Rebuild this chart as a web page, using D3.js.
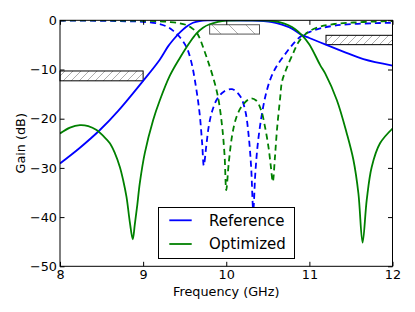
<!DOCTYPE html>
<html>
<head>
<meta charset="utf-8">
<script src="https://cdn.jsdelivr.net/npm/d3@7"></script>
<style>
  body { margin: 0; background: #fff; }
  svg { display: block; font-family: "DejaVu Sans", sans-serif; }
</style>
</head>
<body>
<div id="chart"></div>
<script>
// Values: [frequency GHz, gain dB]
var refS21 = [
  [8.0, -29.1], [8.24, -25.9], [8.48, -22.3], [8.7, -18.4], [9.0, -12.3],
  [9.2, -8.0], [9.3, -5.3], [9.36, -4.0], [9.44, -2.5], [9.52, -1.3],
  [9.6, -0.5], [9.68, -0.15], [9.8, -0.02], [10.0, 0], [10.3, -0.05],
  [10.45, -0.15], [10.55, -0.35], [10.67, -0.9], [10.79, -1.7], [10.91, -3.0],
  [11.0, -3.6], [11.19, -4.9], [11.4, -6.3], [11.65, -7.9], [12.0, -9.2]
];
var refS11 = [
  [8.0, -0.05], [8.5, -0.1], [8.8, -0.2], [9.0, -0.3], [9.2, -0.75],
  [9.3, -1.4], [9.36, -2.1], [9.44, -3.4], [9.52, -5.4], [9.58, -8.5],
  [9.64, -14], [9.68, -19], [9.71, -25], [9.73, -29.5], [9.76, -25.5],
  [9.79, -21.5], [9.83, -18.5], [9.89, -16.0], [9.97, -14.5], [10.07, -14.0],
  [10.17, -15.5], [10.23, -18.5], [10.27, -23.5], [10.3, -30], [10.325, -38.5],
  [10.35, -31], [10.38, -25], [10.42, -20], [10.47, -15.5], [10.53, -12],
  [10.6, -9.5], [10.69, -7.3], [10.8, -4.9], [10.91, -3.1], [11.0, -2.4],
  [11.13, -1.65], [11.3, -1.1], [11.53, -0.75], [11.8, -0.58], [12.0, -0.5]
];
var optS21 = [
  [8.0, -23.0], [8.12, -21.8], [8.24, -21.3], [8.34, -21.5], [8.44, -22.3],
  [8.52, -23.5], [8.6, -25.0], [8.66, -27], [8.72, -29.8], [8.76, -32.5],
  [8.8, -35.9], [8.84, -41], [8.875, -44.5], [8.9, -41.5], [8.93, -37.5],
  [8.96, -33.1], [9.02, -27.0], [9.12, -20.3], [9.2, -16.3], [9.32, -11.3],
  [9.44, -7.7], [9.56, -4.5], [9.64, -2.7], [9.72, -1.5], [9.8, -0.8],
  [9.9, -0.3], [10.0, -0.05], [10.3, 0], [10.5, -0.05], [10.65, -0.4],
  [10.75, -1.0], [10.83, -1.8], [10.91, -3.0], [11.0, -4.9], [11.13, -9.1],
  [11.19, -10.8], [11.33, -16.2], [11.45, -23.0], [11.53, -28.4], [11.59, -35.2],
  [11.64, -45.2], [11.69, -36.5], [11.75, -29.8], [11.85, -25.0], [12.0, -22.0]
];
var optS11 = [
  [8.0, -0.02], [8.8, -0.05], [9.0, -0.1], [9.2, -0.2], [9.32, -0.35],
  [9.44, -0.6], [9.52, -0.95], [9.58, -1.5], [9.64, -2.4], [9.68, -3.6],
  [9.72, -5.4], [9.78, -8.3], [9.84, -11.5], [9.9, -15.5], [9.95, -21.5],
  [9.98, -27.5], [10.0, -34.5], [10.03, -29], [10.07, -23.5], [10.12, -19.8],
  [10.19, -17.4], [10.29, -15.9], [10.36, -16.3], [10.42, -18.3], [10.47, -22],
  [10.51, -26], [10.535, -29.5], [10.56, -32.8], [10.585, -28], [10.61, -22.3],
  [10.65, -15.5], [10.67, -12.5], [10.72, -10], [10.81, -6.5], [10.87, -4.4],
  [10.93, -3.2], [11.0, -2.2], [11.13, -1.3], [11.3, -0.75], [11.53, -0.45],
  [11.8, -0.25], [12.0, -0.15]
];

// Hatched spec masks: [f start, f end, top dB, bottom dB]
var masks = [
  [8.0, 9.0, -10.3, -12.3],
  [9.8, 10.4, -0.9, -2.8],
  [11.2, 12.0, -3.05, -4.95]
];

var xTicks = [8, 9, 10, 11, 12];
var yTicks = [0, -10, -20, -30, -40, -50];
var legendNames = ["Reference", "Optimized"];

// SVG area
var svgWidth = 415;
var svgHeight = 312;
var plot = { left: 60, right: 392.5, top: 20.3, bottom: 266.3 };

var svg = d3.select("#chart")
  .append("svg")
  .attr("width", svgWidth)
  .attr("height", svgHeight);

var x = d3.scaleLinear().domain([8, 12]).range([plot.left, plot.right]);
var y = d3.scaleLinear().domain([-50, 0]).range([plot.bottom, plot.top]);

// hatch patterns
var defs = svg.append("defs");
defs.append("pattern")
  .attr("id", "hatchFwd")
  .attr("patternUnits", "userSpaceOnUse")
  .attr("width", 8).attr("height", 8)
  .append("path")
  .attr("d", "M-2,2 L2,-2 M0,8 L8,0 M6,10 L10,6")
  .attr("stroke", "#8a8a8a")
  .attr("stroke-width", 0.7);
defs.append("pattern")
  .attr("id", "hatchBack")
  .attr("patternUnits", "userSpaceOnUse")
  .attr("width", 17).attr("height", 17)
  .append("path")
  .attr("d", "M-2,-2 L19,19")
  .attr("stroke", "#8a8a8a")
  .attr("stroke-width", 0.7);

defs.append("clipPath")
  .attr("id", "plotClip")
  .append("rect")
  .attr("x", plot.left).attr("y", plot.top)
  .attr("width", plot.right - plot.left)
  .attr("height", plot.bottom - plot.top);

// masks
svg.append("g").selectAll("rect")
  .data(masks)
  .enter()
  .append("rect")
  .attr("x", d => x(d[0]))
  .attr("y", d => y(d[2]))
  .attr("width", d => x(d[1]) - x(d[0]))
  .attr("height", d => y(d[3]) - y(d[2]))
  .attr("fill", (d, i) => i == 1 ? "url(#hatchBack)" : "url(#hatchFwd)")
  .attr("stroke", (d, i) => i == 1 ? "#555" : "#000")
  .attr("stroke-width", 1);

// curves
var line = d3.line()
  .x(d => x(d[0]))
  .y(d => y(d[1]))
  .curve(d3.curveCatmullRom.alpha(0.5));

var series = [
  { data: refS11, color: "#0000ff", dash: "6,4" },
  { data: optS11, color: "#008000", dash: "6,4" },
  { data: refS21, color: "#0000ff", dash: null },
  { data: optS21, color: "#008000", dash: null }
];

var curves = svg.append("g").attr("clip-path", "url(#plotClip)");
series.forEach(function(s) {
  curves.append("path")
    .datum(s.data)
    .attr("d", line)
    .attr("fill", "none")
    .attr("stroke", s.color)
    .attr("stroke-width", 1.8)
    .attr("stroke-dasharray", s.dash);
});

// axes, ticks pointing in on all four sides
var bottomAxis = d3.axisBottom(x).tickValues(xTicks).tickFormat(d3.format("d"))
  .tickSizeInner(-4.5).tickSizeOuter(0).tickPadding(3.7);
var leftAxis = d3.axisLeft(y).tickValues(yTicks).tickFormat(d3.format("d"))
  .tickSizeInner(-4.5).tickSizeOuter(0).tickPadding(3);
var topAxis = d3.axisTop(x).tickValues(xTicks).tickSizeInner(-4.5).tickSizeOuter(0).tickFormat("");
var rightAxis = d3.axisRight(y).tickValues(yTicks).tickSizeInner(-4.5).tickSizeOuter(0).tickFormat("");

function styleAxis(g) {
  g.select(".domain").remove();
  g.selectAll("line").attr("stroke", "#000");
  g.selectAll("text")
    .attr("fill", "#000")
    .style("font-size", "12.8px")
    .style("font-family", "DejaVu Sans");
}

svg.append("g").attr("transform", `translate(0, ${plot.bottom})`).call(bottomAxis).call(styleAxis);
svg.append("g").attr("transform", `translate(${plot.left}, 0)`).call(leftAxis).call(styleAxis);
svg.append("g").attr("transform", `translate(0, ${plot.top})`).call(topAxis).call(styleAxis);
svg.append("g").attr("transform", `translate(${plot.right}, 0)`).call(rightAxis).call(styleAxis);

// frame
svg.append("rect")
  .attr("x", plot.left).attr("y", plot.top)
  .attr("width", plot.right - plot.left)
  .attr("height", plot.bottom - plot.top)
  .attr("fill", "none")
  .attr("stroke", "#000")
  .attr("stroke-width", 1);

// axis labels
svg.append("text")
  .attr("x", (plot.left + plot.right) / 2)
  .attr("y", 296)
  .attr("text-anchor", "middle")
  .style("font-size", "12.8px")
  .text("Frequency (GHz)");

svg.append("text")
  .attr("transform", `translate(25, ${(plot.top + plot.bottom) / 2}) rotate(-90)`)
  .attr("text-anchor", "middle")
  .style("font-size", "12.8px")
  .text("Gain (dB)");

// legend
var legend = svg.append("g");
legend.append("rect")
  .attr("x", 158.5).attr("y", 207.5)
  .attr("width", 136).attr("height", 51)
  .attr("fill", "#fff")
  .attr("stroke", "#000")
  .attr("stroke-width", 1);

var legendColors = ["#0000ff", "#008000"];
var legendY = [220.3, 244];
legendNames.forEach(function(name, i) {
  legend.append("line")
    .attr("x1", 169.3).attr("x2", 191.7)
    .attr("y1", legendY[i]).attr("y2", legendY[i])
    .attr("stroke", legendColors[i])
    .attr("stroke-width", 1.8);
  legend.append("text")
    .attr("x", 209)
    .attr("y", legendY[i])
    .attr("dy", "0.36em")
    .style("font-size", "15px")
    .text(name);
});
</script>
</body>
</html>
